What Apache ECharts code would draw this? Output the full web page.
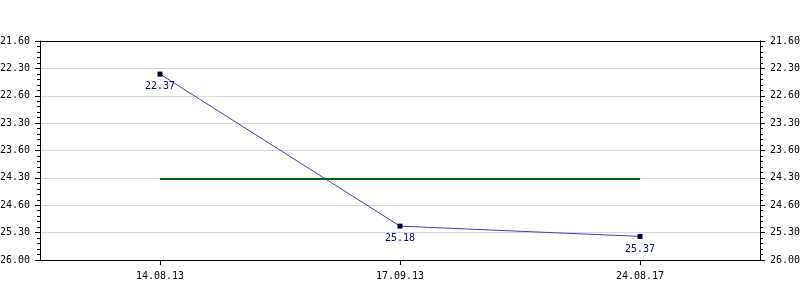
<!DOCTYPE html>
<html>
<head>
<meta charset="utf-8">
<script src="https://cdn.jsdelivr.net/npm/echarts@6/dist/echarts.min.js"></script>
<style>html,body{margin:0;padding:0;background:#fff}#c{width:800px;height:300px}</style>
</head>
<body>
<div id="c"></div>
<script>
var categories = ['14.08.13', '17.09.13', '24.08.17'];
var values = [22.37, 25.18, 25.37];
var averageValues = [24.31, 24.31, 24.31];
var tickLabels = ['21.60', '22.30', '22.60', '23.30', '23.60', '24.30', '24.60', '25.30', '26.00'];

var AX_MIN = 21.758, AX_INT = 0.506, AX_MAX = 21.758 + 8 * 0.506;
var FONT = 'DejaVu Sans Mono';

function yLabel(v) {
  var i = Math.round((v - AX_MIN) / AX_INT);
  return tickLabels[i] !== undefined ? tickLabels[i] : '';
}

function makeY(pos) {
  return {
    type: 'value', position: pos, inverse: true,
    min: AX_MIN, max: AX_MAX, interval: AX_INT,
    axisLine: { show: true, lineStyle: { color: '#000', width: 1 } },
    axisTick: { show: true, length: 5, lineStyle: { color: '#000' } },
    minorTick: { show: true, splitNumber: 5, length: 3, lineStyle: { color: '#000' } },
    axisLabel: { formatter: yLabel, color: '#000', fontFamily: FONT, fontSize: 10, margin: 10, showMinLabel: true, showMaxLabel: true },
    splitLine: { show: pos === 'left', lineStyle: { color: '#d8d8d8', width: 1 } }
  };
}

var chart = echarts.init(document.getElementById('c'), null, { renderer: 'canvas' });
chart.setOption({
  animation: false,
  backgroundColor: '#fff',
  grid: { left: 40, right: 40, top: 41, bottom: 40, show: false, containLabel: false, outerBoundsMode: 'none' },
  xAxis: [{
    type: 'category', data: categories, boundaryGap: true, position: 'bottom',
    axisLine: { lineStyle: { color: '#000', width: 1 } },
    axisTick: { show: true, alignWithLabel: true, length: 5, lineStyle: { color: '#000' } },
    axisLabel: { color: '#000', fontFamily: FONT, fontSize: 10, margin: 11 },
    splitLine: { show: false }
  }, {
    type: 'category', data: categories, boundaryGap: true, position: 'top',
    axisLine: { show: true, lineStyle: { color: '#000', width: 1 } },
    axisTick: { show: false }, axisLabel: { show: false }, splitLine: { show: false }
  }],
  yAxis: [makeY('left'), makeY('right')],
  series: [
    {
      type: 'line', data: averageValues, yAxisIndex: 0,
      symbol: 'none', lineStyle: { color: '#006400', width: 2 }, z: 2
    },
    {
      type: 'line', data: values, yAxisIndex: 0,
      symbol: 'rect', symbolSize: 5,
      itemStyle: { color: '#000044', borderColor: '#000044', borderWidth: 0 },
      lineStyle: { color: '#3c3cc8', width: 1 },
      label: { show: true, position: 'bottom', distance: 5, color: '#000099', fontFamily: FONT, fontSize: 10,
        formatter: function (p) { return p.value.toFixed(2); } },
      z: 3
    }
  ]
});
</script>
</body>
</html>
